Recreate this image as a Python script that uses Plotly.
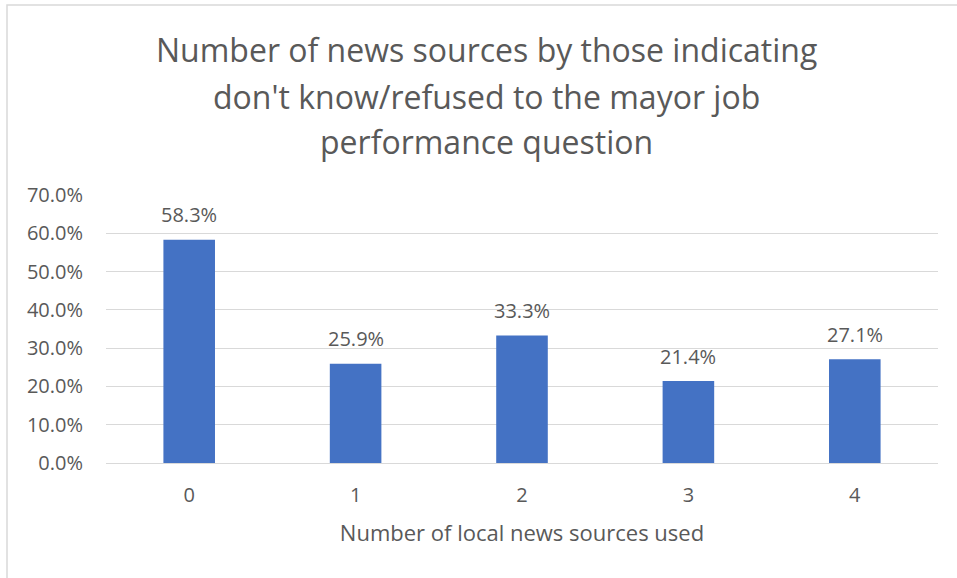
import plotly.graph_objects as go

categories = ["0", "1", "2", "3", "4"]
values = [58.3, 25.9, 33.3, 21.4, 27.1]
y_ticks = [0, 10, 20, 30, 40, 50, 60, 70]
y_tick_labels = [f"{v:.1f}%" for v in y_ticks]
title_lines = ["Number of news sources by those indicating",
               "don't know/refused to the mayor job",
               "performance question"]
x_title = "Number of local news sources used"

W, H = 957, 578
L, R, T, B = 106, 19, 195, 115
pw, ph = W - L - R, H - T - B

FONT = "Open Sans, Segoe UI, sans-serif"
GREY = "#595959"

fig = go.Figure(go.Bar(
    x=categories, y=values,
    marker=dict(color="#4472C4", line=dict(width=0)),
    hoverinfo="x+y",
))

title_centers = [50, 96, 141]
annotations = [dict(text=t, xref="paper", yref="paper",
                    x=(486.5 - L) / pw, y=(T + ph - yc) / ph,
                    xanchor="center", yanchor="middle", showarrow=False,
                    font=dict(size=32, color=GREY, family=FONT))
               for t, yc in zip(title_lines, title_centers)]
annotations += [dict(text=f"{v:.1f}%", x=c, y=v, xref="x", yref="y",
                     xanchor="center", yanchor="middle", yshift=25,
                     showarrow=False, font=dict(size=20, color=GREY, family=FONT))
                for c, v in zip(categories, values)]

fig.update_layout(
    width=W, height=H,
    margin=dict(l=L, r=R, t=T, b=B),
    paper_bgcolor="white", plot_bgcolor="white",
    bargap=0.69,
    showlegend=False,
    font=dict(family=FONT, color=GREY),
    annotations=annotations,
    xaxis=dict(showgrid=False, showline=True, linecolor="#d9d9d9", linewidth=1,
               ticks="", tickfont=dict(size=20, color=GREY), ticklabelstandoff=14,
               title=dict(text=x_title, font=dict(size=22, color=GREY), standoff=18)),
    yaxis=dict(range=[0, 70], tickvals=y_ticks, ticktext=y_tick_labels,
               showgrid=True, gridcolor="#d9d9d9", gridwidth=1, zeroline=False,
               ticks="", tickfont=dict(size=20, color=GREY), ticklabelstandoff=22),
    shapes=[dict(type="rect", xref="paper", yref="paper",
                 x0=(7 - L) / pw, x1=(W + 5 - L) / pw,
                 y0=(T + ph - (H + 5)) / ph, y1=(T + ph - 5) / ph,
                 line=dict(color="#d9d9d9", width=1.5), fillcolor="rgba(0,0,0,0)",
                 layer="below")],
)

fig.write_html("out.html")
